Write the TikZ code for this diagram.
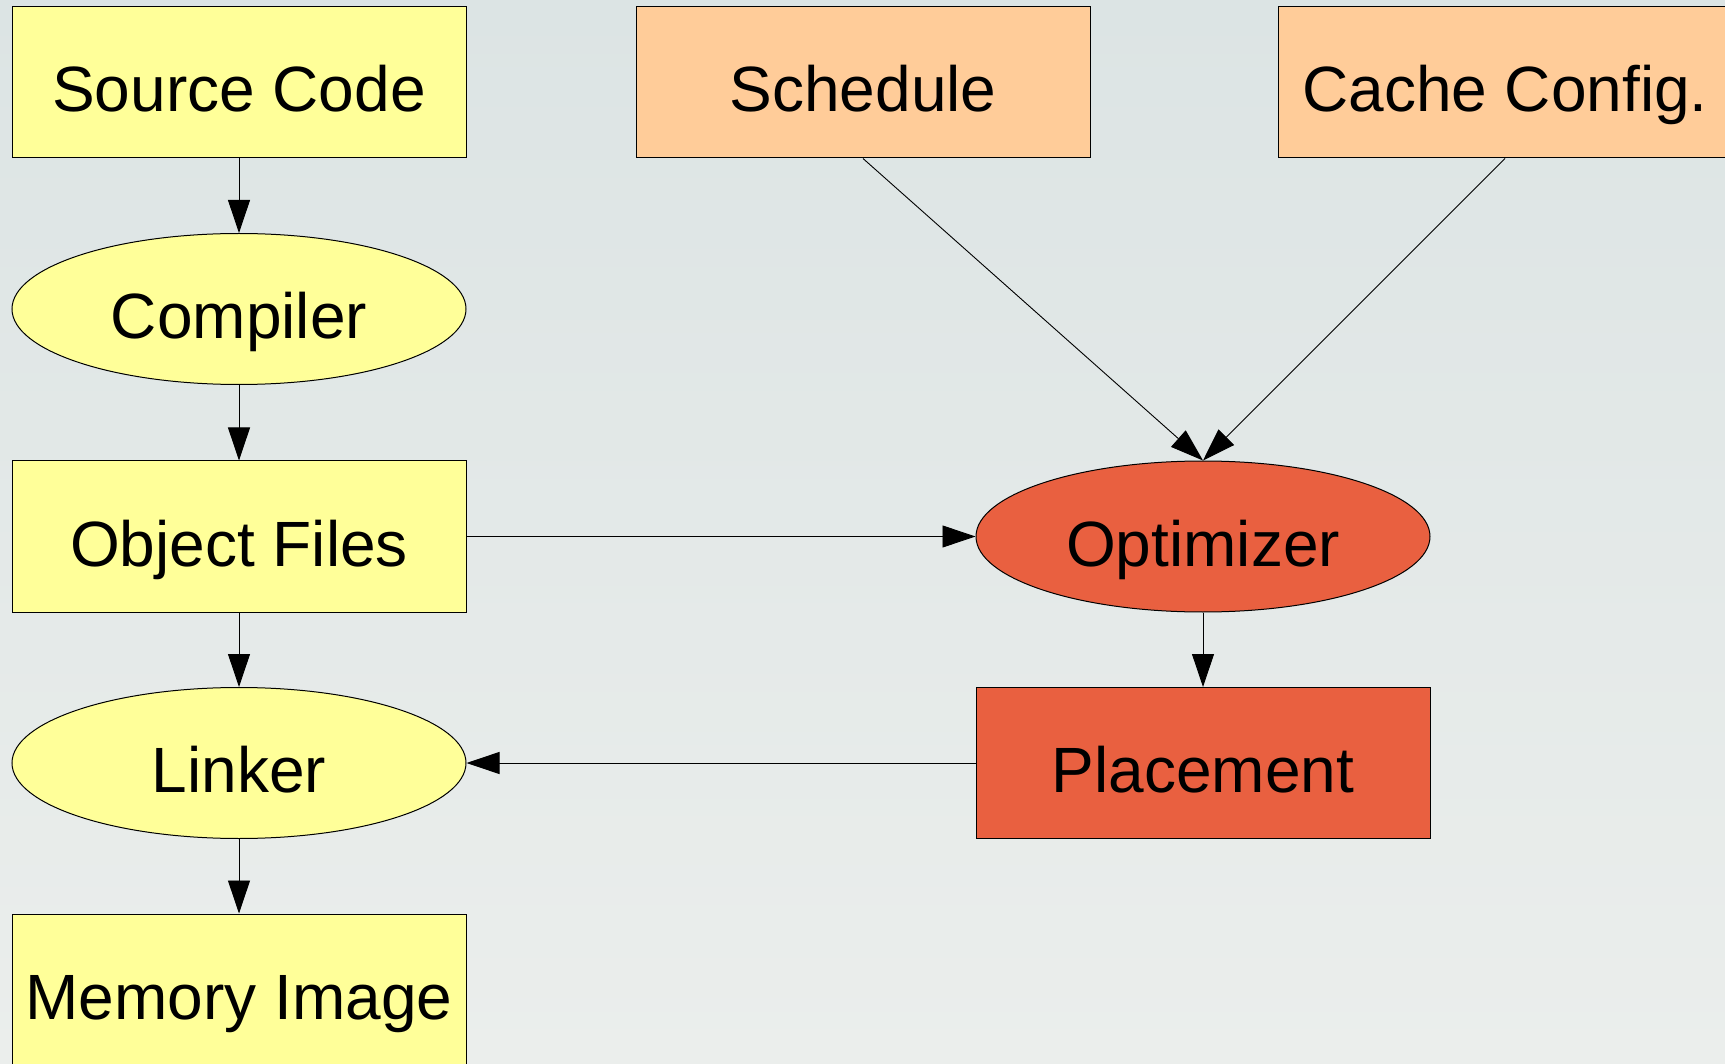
\documentclass[tikz,border=0pt]{standalone}
\usepackage{fontspec}
\setmainfont{Liberation Sans}
\usetikzlibrary{shapes.geometric,arrows.meta}
\definecolor{bgtop}{RGB}{220,228,228}
\definecolor{bgbot}{RGB}{235,238,236}
\definecolor{paleyellow}{RGB}{255,255,153}
\definecolor{paleorange}{RGB}{255,204,153}
\definecolor{hotorange}{RGB}{233,96,64}
\begin{document}
\begin{tikzpicture}[x=1pt,y=-1pt,
  label/.style={font=\fontsize{64}{76}\selectfont, text=black,
    text height=59pt, text depth=0pt},
  boxnode/.style={label, rectangle, draw=black, line width=1pt,
    minimum width=454pt, minimum height=151pt, inner sep=0pt},
  ovalnode/.style={label, ellipse, draw=black, line width=1pt,
    minimum width=454pt, minimum height=151pt, inner sep=0pt},
  flow/.style={draw=black, line width=0.9pt,
    -{Triangle[length=33pt,width=22pt]}}]
  % backdrop
  \shade[top color=bgtop, bottom color=bgbot] (0,0) rectangle (1725,1064);
  \useasboundingbox (0,0) rectangle (1725,1064);

  % build chain
  \node[boxnode, fill=paleyellow] (src) at (239,82.5) {Source Code};
  \node[ovalnode, fill=paleyellow] (cc) at (239,309) {Compiler};
  \node[boxnode, fill=paleyellow] (obj) at (239,536.5) {Object Files};
  \node[ovalnode, fill=paleyellow] (ld) at (239,763) {Linker};
  \node[boxnode, fill=paleyellow] (img) at (239,989.5) {Memory Image};

  % optimisation inputs
  \node[boxnode, fill=paleorange] (sched) at (863,82.5) {Schedule};
  \node[boxnode, fill=paleorange] (cache) at (1505,82.5) {Cache Config.};

  % optimiser
  \node[ovalnode, fill=hotorange] (opt) at (1203,536.5) {Optimizer};
  \node[boxnode, fill=hotorange] (place) at (1203,763) {Placement};

  % connectors
  \draw[flow] (src) -- (cc);
  \draw[flow] (cc) -- (obj);
  \draw[flow] (obj) -- (ld);
  \draw[flow] (ld) -- (img);
  \draw[flow] (obj) -- (opt);
  \draw[flow] (sched.south) -- (opt.north);
  \draw[flow] (cache.south) -- (opt.north);
  \draw[flow] (opt) -- (place);
  \draw[flow] (place) -- (ld);
\end{tikzpicture}
\end{document}
